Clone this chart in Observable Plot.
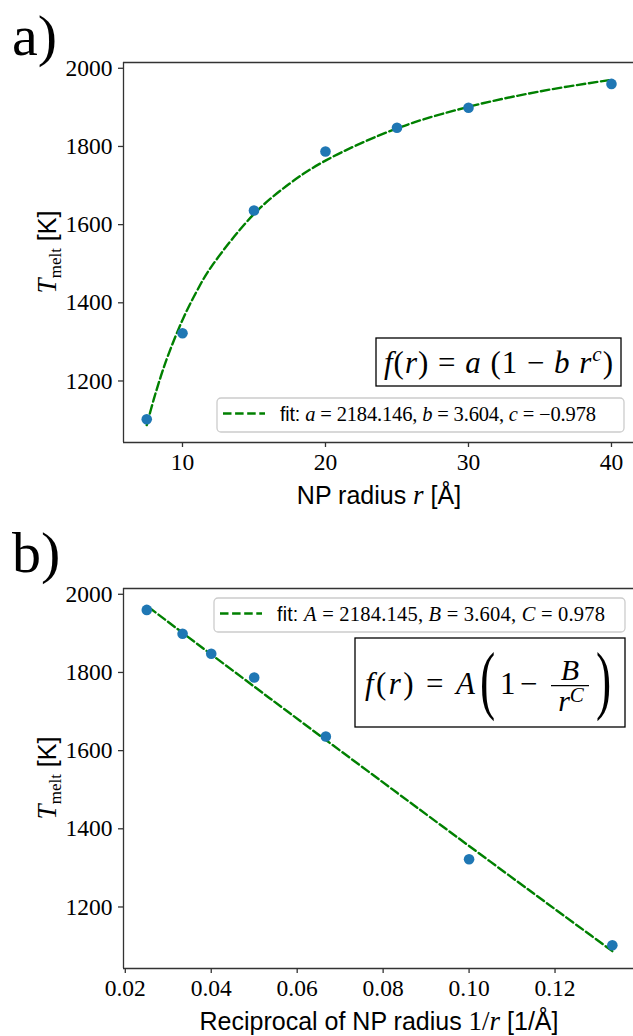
<!DOCTYPE html>
<html>
<head>
<meta charset="utf-8">
<script src="https://cdn.jsdelivr.net/npm/d3@7"></script>
<script src="https://cdn.jsdelivr.net/npm/@observablehq/plot@0.6"></script>
<style>
  body { margin: 0; background: #fff; }
  #chart { width: 633px; height: 1036px; overflow: hidden; background: #fff; }
  #chart svg { display: block; }
</style>
</head>
<body>
<div id="chart"></div>
<script>
// Melting temperature of nanoparticles vs. radius, with power-law fit
const radius = [7.5, 10, 15, 20, 25, 30, 40];            // NP radius r [Å]
const tMelt = [1102, 1322, 1636, 1787, 1848, 1899, 1960];  // T_melt [K]

// fitted curve f(r) = a (1 - b r^c), a = 2184.146, b = 3.604, c = -0.978, sampled
const fitRadius = [7.5, 8, 8.5, 9, 10, 11, 12, 15, 17.5, 20, 25, 30, 35, 40];
const fitTMelt = [1087.0, 1154.1, 1213.4, 1266.2, 1356.1, 1429.8, 1491.4, 1627.2, 1705.1, 1763.8, 1846.2, 1901.4, 1940.9, 1970.7];

const yTicks = [1200, 1400, 1600, 1800, 2000];
const xTicksA = [10, 20, 30, 40];
const xTicksB = [0.02, 0.04, 0.06, 0.08, 0.10, 0.12];

const serif = "'Liberation Serif', 'DejaVu Serif', serif";
const sans = "'Liberation Sans', Arial, sans-serif";
const spine = "#333";
const dotColor = "#1f77b4";
const fitColor = "green";
const dash = "8.5,3.6";

const points = radius.map((r, i) => ({r, inv: 1 / r, t: tMelt[i]}));
const fit = fitRadius.map((r, i) => ({r, inv: 1 / r, t: fitTMelt[i]}));

const yDomain = [1042.6, 2014.8];

function panel({height, marginTop, marginBottom, xKey, xDomain, xTicks, xFormat}) {
  return Plot.plot({
    width: 633,
    height,
    marginTop,
    marginBottom,
    marginLeft: 123,
    marginRight: 0,
    style: {fontFamily: serif, fontSize: "23.5px", color: "black", background: "white", overflow: "visible"},
    x: {domain: xDomain},
    y: {domain: yDomain},
    marks: [
      Plot.line(fit, {x: xKey, y: "t", stroke: fitColor, strokeWidth: 2.4, strokeDasharray: dash, curve: "catmull-rom"}),
      Plot.dot(points, {x: xKey, y: "t", r: 5.3, fill: dotColor}),
      Plot.ruleY([yDomain[1]], {stroke: spine, strokeWidth: 1.3}),
      Plot.ruleY([yDomain[0]], {stroke: spine, strokeWidth: 1.3}),
      Plot.ruleX([xDomain[0]], {stroke: spine, strokeWidth: 1.3}),
      Plot.axisX({ticks: xTicks, tickFormat: xFormat, tickSize: 5, tickPadding: 6, label: null, stroke: spine, strokeWidth: 1.3}),
      Plot.axisY({ticks: yTicks, tickFormat: "d", tickSize: 5, tickPadding: 6, label: null, stroke: spine, strokeWidth: 1.3})
    ]
  });
}

function addText(g, x, y, parts, opts = {}) {
  const t = g.append("text").attr("x", x).attr("y", y).attr("fill", "black")
    .attr("text-anchor", opts.anchor || "start");
  if (opts.transform) t.attr("transform", opts.transform);
  if (opts.textLength) t.attr("textLength", opts.textLength).attr("lengthAdjust", "spacing");
  for (const p of parts) {
    const s = t.append("tspan").text(p.text)
      .attr("font-family", p.sans ? sans : serif)
      .attr("font-size", p.size)
      .attr("font-style", p.italic ? "italic" : "normal");
    if (p.dy) s.attr("dy", p.dy);
  }
  return t;
}

function yLabel(g, cx, cy) {
  addText(g, 0, 0, [
    {text: "T", italic: true, size: 27},
    {text: "melt", size: 17, dy: 5},
    {text: " [K]", sans: true, size: 25, dy: -5}
  ], {anchor: "middle", transform: `translate(${cx},${cy}) rotate(-90)`});
}

function legendBox(g, x, y, w, parts, textLength) {
  g.append("rect").attr("x", x).attr("y", y).attr("width", w).attr("height", 34)
    .attr("rx", 4).attr("fill", "white").attr("fill-opacity", 0.8)
    .attr("stroke", "#cccccc").attr("stroke-width", 1.3);
  g.append("line").attr("x1", x + 6).attr("x2", x + 48).attr("y1", y + 15.5).attr("y2", y + 15.5)
    .attr("stroke", fitColor).attr("stroke-width", 2.4).attr("stroke-dasharray", dash);
  addText(g, x + 63, y + 23, parts, {textLength});
}

const chart = document.getElementById("chart");

// ---- panel a): T_melt vs r ----
const svgA = panel({
  height: 512, marginTop: 62, marginBottom: 70,
  xKey: "r", xDomain: [5.875, 41.54], xTicks: xTicksA, xFormat: "d"
});
chart.append(svgA);
{
  const g = d3.select(svgA).append("g");
  addText(g, 12, 55, [{text: "a)", size: 58}]);
  yLabel(g, 56, 252);
  addText(g, 379, 504, [
    {text: "NP radius ", sans: true, size: 25},
    {text: "r", italic: true, size: 27},
    {text: " [Å]", sans: true, size: 25}
  ], {anchor: "middle"});

  g.append("rect").attr("x", 376).attr("y", 338).attr("width", 245).attr("height", 48)
    .attr("fill", "white").attr("stroke", "black").attr("stroke-width", 1.3);
  addText(g, 384, 373, [
    {text: "f", italic: true, size: 31},
    {text: "(", size: 31},
    {text: "r", italic: true, size: 31},
    {text: ") = ", size: 31},
    {text: "a", italic: true, size: 31},
    {text: " (1 − ", size: 31},
    {text: "b r", italic: true, size: 31},
    {text: "c", italic: true, size: 21, dy: -12},
    {text: ")", size: 31, dy: 12}
  ], {textLength: 229});

  legendBox(g, 217, 398, 407, [
    {text: "fit: ", sans: true, size: 19.5},
    {text: "a", italic: true, size: 20.5},
    {text: " = 2184.146, ", size: 20.5},
    {text: "b", italic: true, size: 20.5},
    {text: " = 3.604, ", size: 20.5},
    {text: "c", italic: true, size: 20.5},
    {text: " = −0.978", size: 20.5}
  ], 316);
}

// ---- panel b): T_melt vs 1/r ----
const svgB = panel({
  height: 524, marginTop: 76, marginBottom: 68,
  xKey: "inv", xDomain: [0.019583, 0.13826], xTicks: xTicksB, xFormat: ".2f"
});
chart.append(svgB);
{
  const g = d3.select(svgB).append("g");
  addText(g, 12, 60, [{text: "b)", size: 58}]);
  yLabel(g, 56, 266);
  addText(g, 379, 518, [
    {text: "Reciprocal of NP radius ", sans: true, size: 25},
    {text: "1/", size: 27},
    {text: "r", italic: true, size: 27},
    {text: " [1/Å]", sans: true, size: 25}
  ], {anchor: "middle"});

  legendBox(g, 214, 86, 411, [
    {text: "fit: ", sans: true, size: 19.5},
    {text: "A", italic: true, size: 20.5},
    {text: " = 2184.145, ", size: 20.5},
    {text: "B", italic: true, size: 20.5},
    {text: " = 3.604, ", size: 20.5},
    {text: "C", italic: true, size: 20.5},
    {text: " = 0.978", size: 20.5}
  ], 328);

  g.append("rect").attr("x", 355).attr("y", 126).attr("width", 270).attr("height", 89)
    .attr("fill", "white").attr("stroke", "black").attr("stroke-width", 1.3);
  addText(g, 365, 182, [
    {text: "f", italic: true, size: 31},
    {text: "(", size: 31},
    {text: "r", italic: true, size: 31},
    {text: ") = ", size: 31},
    {text: "A", italic: true, size: 31}
  ], {textLength: 110});
  addText(g, 0, 0, [{text: "(", size: 76}], {transform: "translate(480,192.7) scale(0.6,1)"});
  addText(g, 500, 182, [{text: "1", size: 31}]);
  addText(g, 520, 182, [{text: "−", size: 31}]);
  g.append("line").attr("x1", 551).attr("x2", 589).attr("y1", 173.7).attr("y2", 173.7)
    .attr("stroke", "black").attr("stroke-width", 1.2);
  addText(g, 570, 168, [{text: "B", italic: true, size: 30}], {anchor: "middle"});
  addText(g, 571, 199, [
    {text: "r", italic: true, size: 30},
    {text: "C", italic: true, size: 21, dy: -9}
  ], {anchor: "middle"});
  addText(g, 0, 0, [{text: ")", size: 76}], {transform: "translate(596,192.7) scale(0.6,1)"});
}
</script>
</body>
</html>
